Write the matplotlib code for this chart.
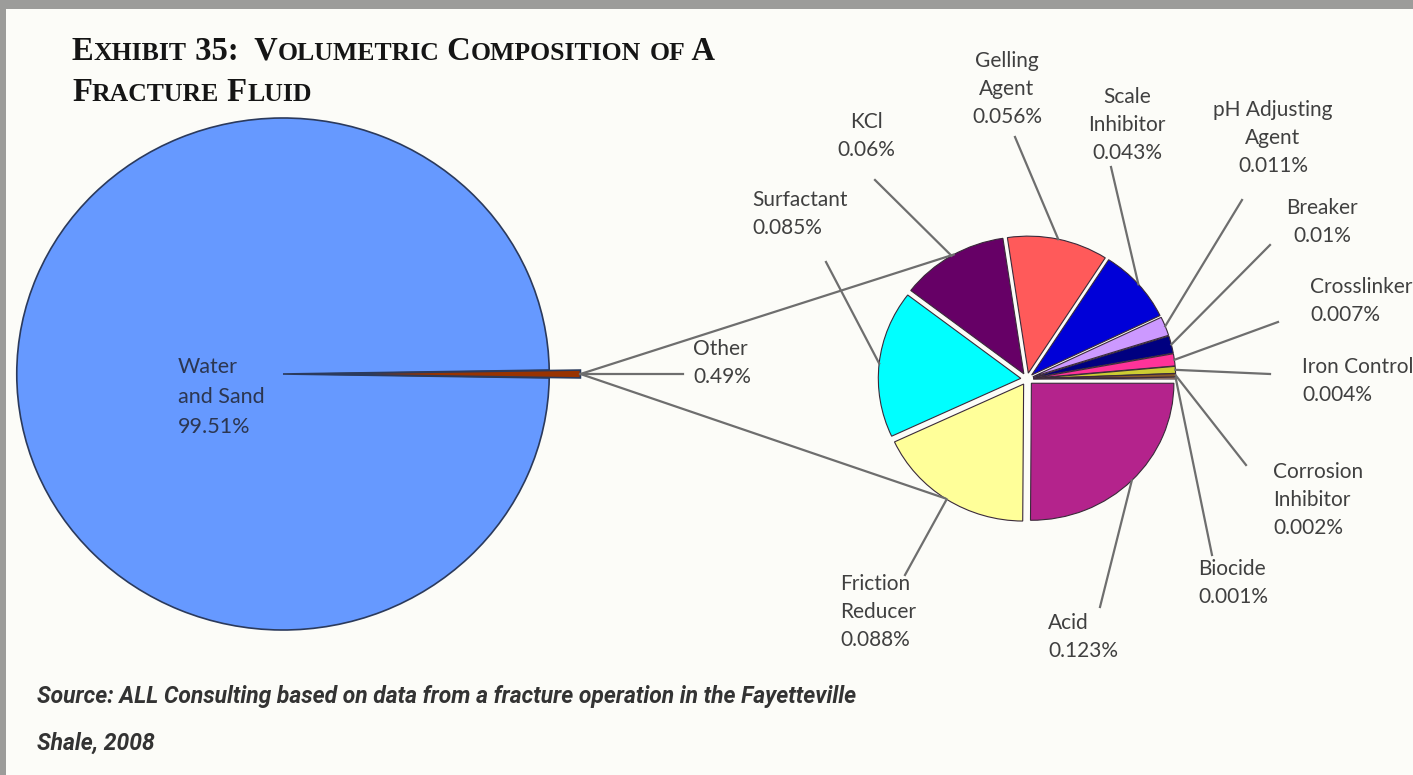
import numpy as np
import matplotlib.pyplot as plt
from matplotlib.patches import Rectangle

W, H = 1413, 775
SX = 1.04  # the chart is drawn slightly wider than tall

# first pie
main_labels = ['Water\nand Sand', 'Other']
main_values = [99.51, 0.49]
main_colors = ['#6699ff', '#993300']

# breakdown of "Other", clockwise from 3 o'clock
sub_labels = ['Acid', 'Friction\nReducer', 'Surfactant', 'KCl', 'Gelling\nAgent',
              'Scale\nInhibitor', 'pH Adjusting\nAgent', 'Breaker', 'Crosslinker',
              'Iron Control', 'Corrosion\nInhibitor', 'Biocide']
sub_values = [0.123, 0.088, 0.085, 0.06, 0.056, 0.043, 0.011, 0.01, 0.007, 0.004, 0.002, 0.001]
sub_colors = ['#b4238c', '#ffff99', '#00ffff', '#660066', '#ff5a5a', '#0000d8',
              '#cc99ff', '#000080', '#ff3399', '#cccc33', '#8a5a2a', '#ffcc99']

# label placement (pixel x, pixel y of block centre, alignment) and leader start
sub_text_pos = [(1048, 637, 'left'), (840, 612, 'left'), (752, 214, 'left'),
                (866, 136, 'center'), (1007, 89, 'center'), (1127, 125, 'center'),
                (1273, 138, 'center'), (1322, 222, 'center'), (1310, 301, 'left'),
                (1302, 381, 'left'), (1273, 500, 'left'), (1198, 583, 'left')]
sub_leader_start = [(1100, 607), (905, 575), (826, 262), (875, 180), (1015, 137),
                    (1111, 167), (1242, 200), (1270, 245), (1278, 322), (1270, 374),
                    (1246, 465), (1212, 555)]


def P(x, y):
    return (x / SX, H - y)


fig = plt.figure(figsize=(W / 100, H / 100), dpi=100)
fig.patch.set_facecolor('#9c9c9a')
ax = fig.add_axes([0, 0, 1, 1])

font = ['Lato', 'DejaVu Sans']
txt_col = '#404040'
line_col = '#6e6e6e'

# big pie
big_c = P(283, 374)
big_r = 256
other_frac = main_values[1] / sum(main_values)
ax.pie(main_values, colors=main_colors, radius=big_r, center=big_c,
       startangle=other_frac * 180, counterclock=True, explode=[0, 30],
       wedgeprops=dict(edgecolor='#2b3a5c', linewidth=1.2))

# small pie
sm_c = P(1027, 379)
sm_r = 137
sm_ex = 6
ax.pie(sub_values, colors=sub_colors, radius=sm_r, center=sm_c,
       startangle=0, counterclock=False, explode=[sm_ex] * len(sub_values),
       wedgeprops=dict(edgecolor='#3a2a3a', linewidth=0.8))

ax.set_aspect('auto')
ax.set_xlim(0, W / SX)
ax.set_ylim(0, H)
ax.axis('off')

# white page
ax.add_patch(Rectangle(P(6, H), (W - 6) / SX, H - 9, facecolor='#fcfcf8',
                       edgecolor='none', zorder=-5))

# tip of the "Other" wedge
tip = (big_c[0] + big_r + 30, big_c[1])

# connector lines to the second pie
rr = sm_r + sm_ex
for ang in (119.5, 236.5):
    a = np.radians(ang)
    ax.plot([tip[0], sm_c[0] + rr * np.cos(a)], [tip[1], sm_c[1] + rr * np.sin(a)],
            color=line_col, lw=1.6, zorder=3)

# "Other" leader and label
ax.plot([tip[0], 683 / SX], [tip[1], tip[1]], color=line_col, lw=1.6, zorder=3)
ax.text(*P(693, 363), f"{main_labels[1]}\n{main_values[1]:g}%", ha='left', va='center',
        fontsize=15, color=txt_col, family=font, linespacing=1.5)
ax.text(*P(178, 397), f"{main_labels[0]}\n{main_values[0]:g}%", ha='left', va='center',
        fontsize=15.5, color='#2c3650', family=font, linespacing=1.6)

# leaders and labels of the small pie
tot = sum(sub_values)
cum = np.cumsum([0] + sub_values)
for i, (lab, v) in enumerate(zip(sub_labels, sub_values)):
    mid = -np.radians((cum[i] + v / 2) / tot * 360)
    ex, ey = sm_c[0] + rr * np.cos(mid), sm_c[1] + rr * np.sin(mid)
    sx, sy = P(*sub_leader_start[i])
    ax.plot([sx, ex], [sy, ey], color=line_col, lw=1.6, zorder=3)
    tx, ty, ha = sub_text_pos[i]
    ax.text(*P(tx, ty), f"{lab}\n{v:g}%", ha=ha, va='center', fontsize=15,
            color=txt_col, family=font, linespacing=1.5, clip_on=False)

# title in small capitals
renderer = fig.canvas.get_renderer()


def small_caps(x, y, s, big=23.5, small=18.5):
    runs = []
    for ch in s:
        low = ch.islower()
        if runs and runs[-1][1] == low:
            runs[-1][0] += ch
        else:
            runs.append([ch, low])
    for part, low in runs:
        t = ax.text(x, y, part.upper(), fontsize=small if low else big, fontweight='bold',
                    family=['Liberation Serif', 'DejaVu Serif'], color='#151515',
                    ha='left', va='baseline')
        x = t.get_window_extent(renderer).x1 / SX


small_caps(72 / SX, H - 60, 'Exhibit 35:  Volumetric Composition of A')
small_caps(72 / SX, H - 101, 'Fracture Fluid')

src_font = ['Roboto', 'DejaVu Sans']
ax.text(*P(37, 697), 'Source: ALL Consulting based on data from a fracture operation in the Fayetteville',
        ha='left', va='center', fontsize=16.5, style='italic', fontweight='bold',
        family=src_font, color='#333333')
ax.text(*P(37, 743), 'Shale, 2008', ha='left', va='center', fontsize=16.5, style='italic',
        fontweight='bold', family=src_font, color='#333333')

fig.savefig('out.png', dpi=100, facecolor=fig.get_facecolor())
